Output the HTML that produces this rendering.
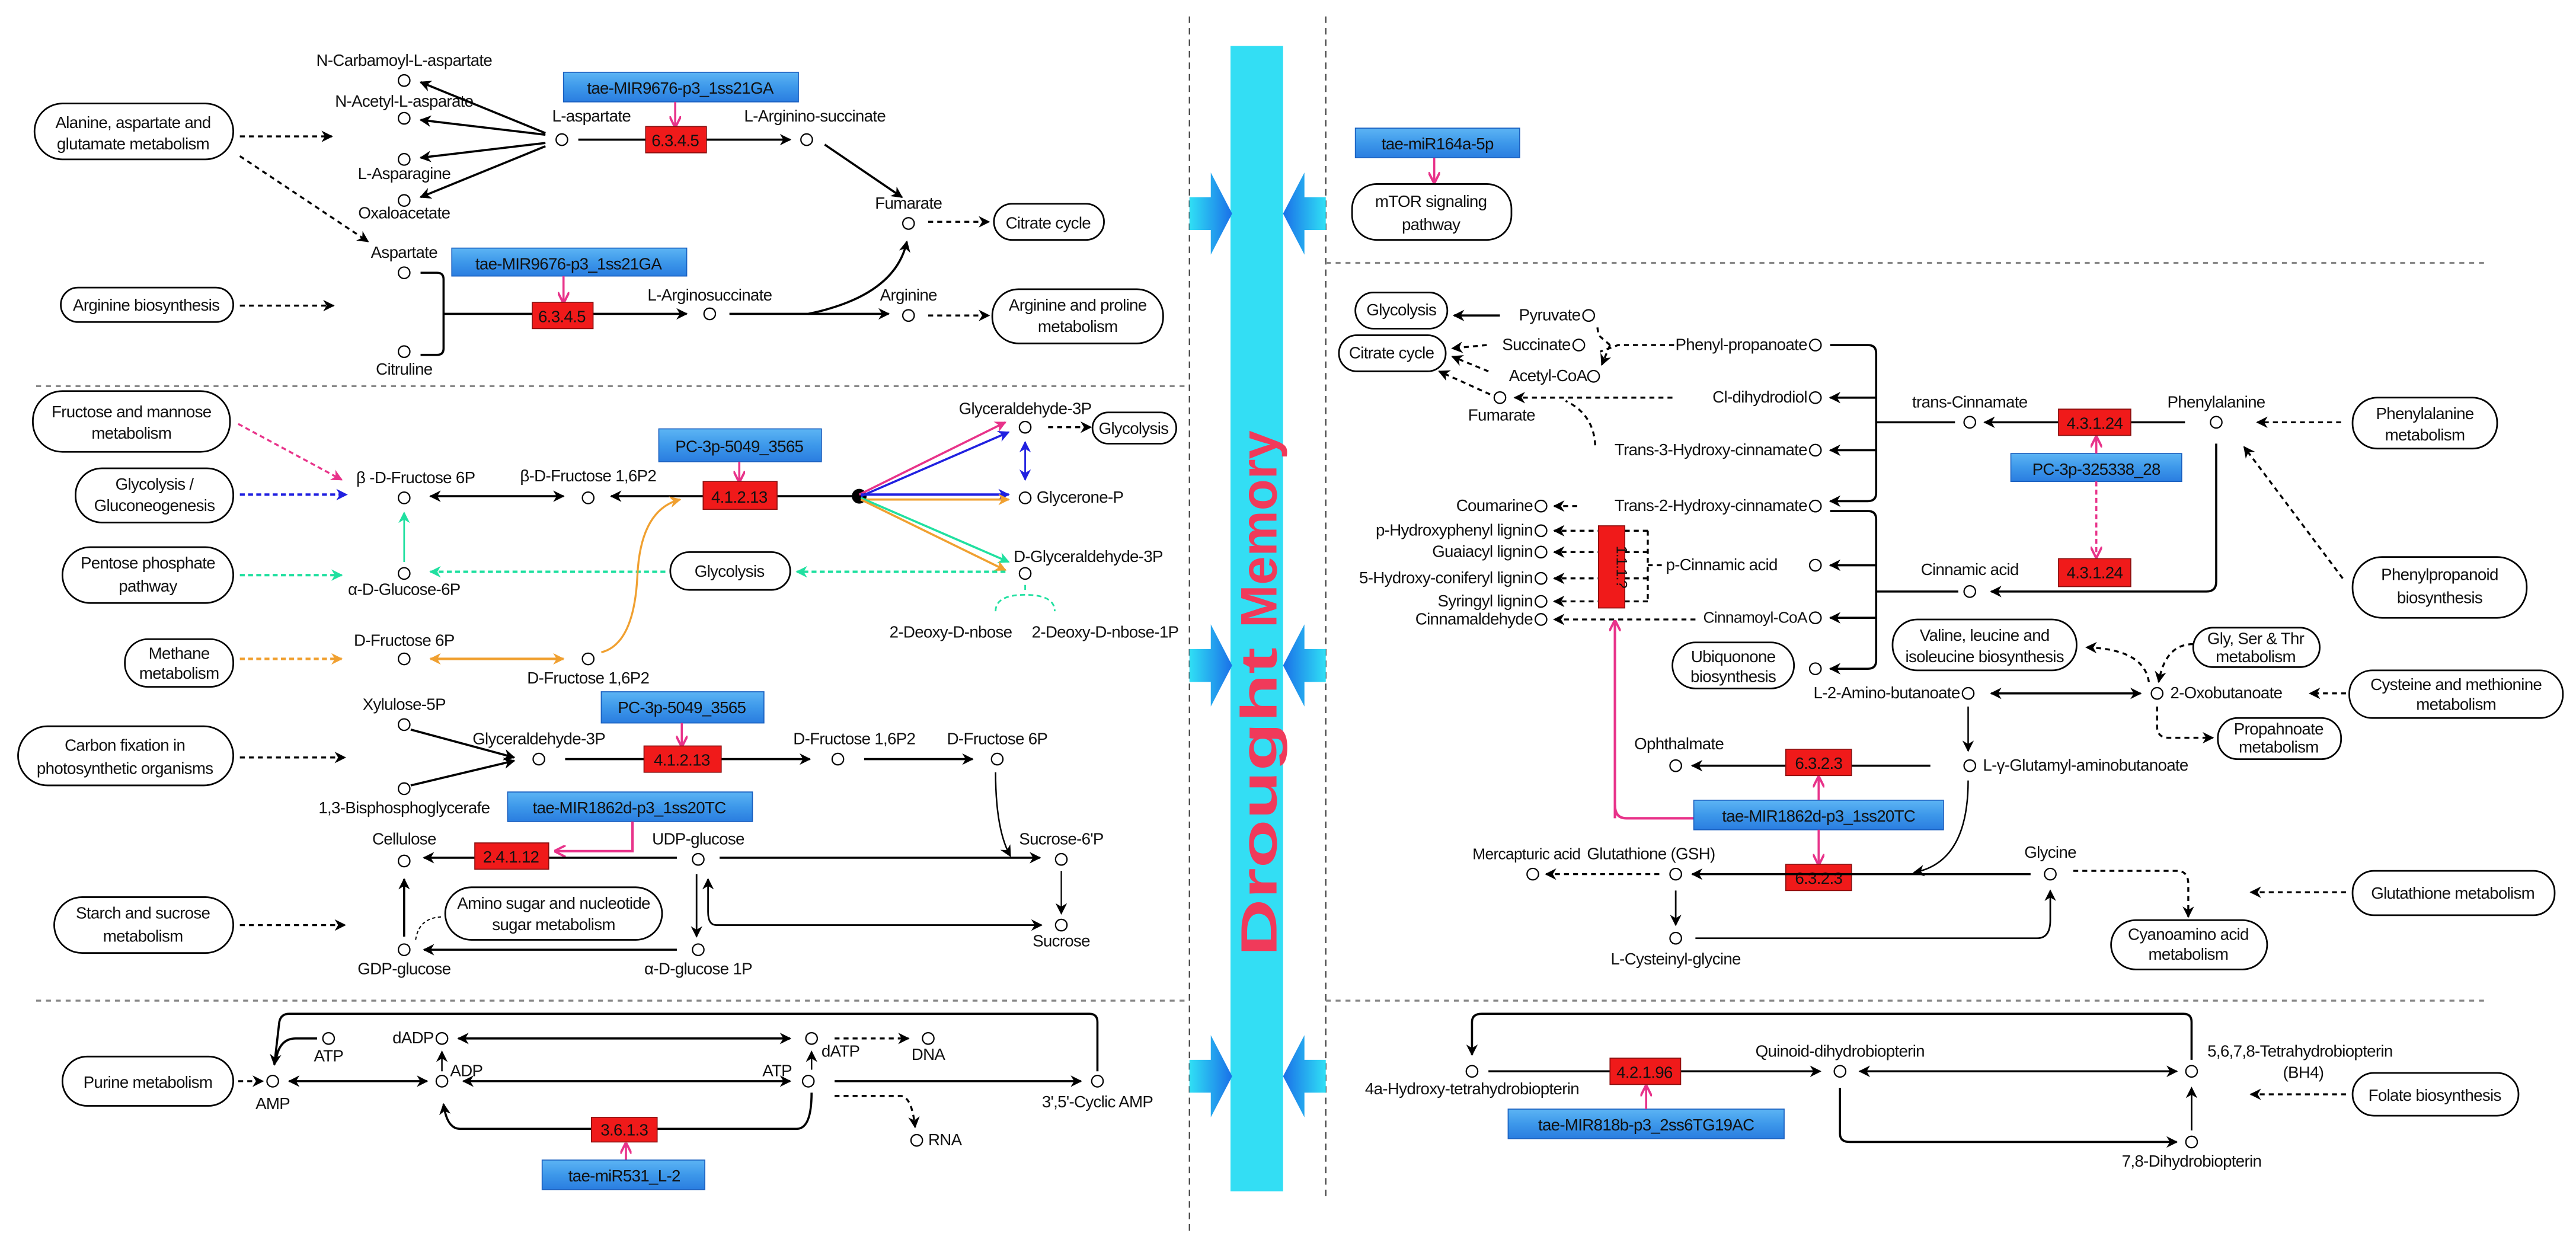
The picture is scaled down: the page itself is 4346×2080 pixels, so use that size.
<!DOCTYPE html>
<html><head><meta charset="utf-8"><style>
html,body{margin:0;padding:0;background:#fff;}
svg{display:block;}
text{font-family:"Liberation Sans Narrow","Liberation Sans",sans-serif;font-size:10px;fill:#111;letter-spacing:-0.25px;}
.m{text-anchor:middle;}
.e{text-anchor:end;}
.l{stroke:#000;stroke-width:1.3;fill:none;}
.d{stroke:#000;stroke-width:1.2;fill:none;stroke-dasharray:3,2.5;}
.c{fill:#fff;stroke:#000;stroke-width:0.8;}
.bx{fill:#fff;stroke:#000;stroke-width:1;}
.rd{fill:#f01a1a;stroke:#8a1010;stroke-width:0.6;}
.bl{fill:url(#bg);stroke:#1a60c0;stroke-width:0.6;}
.sep{stroke:#888;stroke-width:1.2;stroke-dasharray:3,3;}
</style></head><body>
<svg width="4346" height="2080" viewBox="0 0 1568 750.4" preserveAspectRatio="none" xmlns="http://www.w3.org/2000/svg">
<defs>
<linearGradient id="bg" x1="0" y1="0" x2="0" y2="1"><stop offset="0" stop-color="#5cb4f4"/><stop offset="0.5" stop-color="#3d98ea"/><stop offset="1" stop-color="#2a7de0"/></linearGradient>
<linearGradient id="ar" x1="0" y1="0" x2="1" y2="0"><stop offset="0" stop-color="#30e0f5"/><stop offset="1" stop-color="#1a70e8"/></linearGradient>
<linearGradient id="al" x1="1" y1="0" x2="0" y2="0"><stop offset="0" stop-color="#30e0f5"/><stop offset="1" stop-color="#1a70e8"/></linearGradient>
<marker id="a" viewBox="0 0 10 10" refX="9" refY="5" markerWidth="7" markerHeight="7" markerUnits="userSpaceOnUse" orient="auto-start-reverse"><path d="M0,0L10,5L0,10L3,5z" fill="#000"/></marker>
<marker id="p" viewBox="0 0 10 10" refX="9" refY="5" markerWidth="7" markerHeight="7" markerUnits="userSpaceOnUse" orient="auto-start-reverse"><path d="M0,0L10,5L0,10" fill="none" stroke="#e8338a" stroke-width="2"/></marker>
<marker id="b" viewBox="0 0 10 10" refX="9" refY="5" markerWidth="7" markerHeight="7" markerUnits="userSpaceOnUse" orient="auto-start-reverse"><path d="M0,0L10,5L0,10L3,5z" fill="#2020e0"/></marker>
<marker id="o" viewBox="0 0 10 10" refX="9" refY="5" markerWidth="7" markerHeight="7" markerUnits="userSpaceOnUse" orient="auto-start-reverse"><path d="M0,0L10,5L0,10L3,5z" fill="#f0a030"/></marker>
<marker id="t" viewBox="0 0 10 10" refX="9" refY="5" markerWidth="7" markerHeight="7" markerUnits="userSpaceOnUse" orient="auto-start-reverse"><path d="M0,0L10,5L0,10L3,5z" fill="#20e0a0"/></marker>
<marker id="k" viewBox="0 0 10 10" refX="9" refY="5" markerWidth="7" markerHeight="7" markerUnits="userSpaceOnUse" orient="auto-start-reverse"><path d="M0,0L10,5L0,10L3,5z" fill="#e8338a"/></marker>
</defs>

<!-- dividers -->
<line x1="724" y1="10" x2="724" y2="750" stroke="#444" stroke-width="0.8" stroke-dasharray="4,3"/>
<line x1="807" y1="10" x2="807" y2="728" stroke="#444" stroke-width="0.8" stroke-dasharray="4,3"/>
<line class="sep" x1="22" y1="235" x2="724" y2="235"/>
<line class="sep" x1="22" y1="609" x2="724" y2="609"/>
<line class="sep" x1="807" y1="160" x2="1512" y2="160"/>
<line class="sep" x1="807" y1="609" x2="1512" y2="609"/>

<!-- cyan bar -->
<rect x="749" y="28" width="32" height="697" fill="#33def4"/>
<text transform="translate(777,322) rotate(-90)" class="m" textLength="120" lengthAdjust="spacingAndGlyphs" style="font-size:31px;font-weight:bold;fill:#f03a5a;font-family:'Liberation Sans',sans-serif;letter-spacing:0">Memory</text>
<text transform="translate(777,488) rotate(-90)" class="m" textLength="188" lengthAdjust="spacingAndGlyphs" style="font-size:31px;font-weight:bold;fill:#f03a5a;font-family:'Liberation Sans',sans-serif;letter-spacing:0">Drought</text>
<!-- blue arrows -->
<g fill="url(#ar)"><path d="M724,120H737V105L750,130L737,155V140H724z"/><path d="M724,395H737V380L750,405L737,430V415H724z"/><path d="M724,645H737V630L750,655L737,680V665H724z"/></g>
<g fill="url(#al)"><path d="M807,120H794V105L781,130L794,155V140H807z"/><path d="M807,395H794V380L781,405L794,430V415H807z"/><path d="M807,645H794V630L781,655L794,680V665H807z"/></g>

<!-- ===== LEFT SECTION 1 ===== -->
<rect class="bx" x="21" y="63" width="121" height="34" rx="17"/>
<text class="m" x="81" y="78">Alanine, aspartate and</text><text class="m" x="81" y="91">glutamate metabolism</text>
<line class="d" x1="146" y1="83" x2="202" y2="83" marker-end="url(#a)"/>
<text class="m" x="246" y="40">N-Carbamoyl-L-aspartate</text><circle class="c" cx="246" cy="49" r="3.5"/>
<text class="m" x="246" y="65">N-Acetyl-L-asparate</text><circle class="c" cx="246" cy="72" r="3.5"/>
<circle class="c" cx="246" cy="97" r="3.5"/><text class="m" x="246" y="109">L-Asparagine</text>
<circle class="c" cx="246" cy="122" r="3.5"/><text class="m" x="246" y="133">Oxaloacetate</text>
<line class="l" x1="332" y1="81" x2="256" y2="50" marker-end="url(#a)"/>
<line class="l" x1="332" y1="82" x2="256" y2="73" marker-end="url(#a)"/>
<line class="l" x1="332" y1="87" x2="256" y2="96" marker-end="url(#a)"/>
<line class="l" x1="332" y1="89" x2="256" y2="120" marker-end="url(#a)"/>
<circle class="c" cx="342" cy="85" r="3.5"/><text class="m" x="360" y="74">L-aspartate</text>
<rect class="bl" x="343" y="44" width="143" height="18"/><text class="m" x="414" y="57">tae-MIR9676-p3_1ss21GA</text>
<line x1="411" y1="62" x2="411" y2="77" stroke="#e8338a" stroke-width="1.3" marker-end="url(#p)"/>
<line class="l" x1="352" y1="85" x2="481" y2="85" marker-end="url(#a)"/>
<rect class="rd" x="393" y="77" width="37" height="16"/><text class="m" x="411" y="89">6.3.4.5</text>
<text class="m" x="496" y="74">L-Arginino-succinate</text><circle class="c" cx="491" cy="85" r="3.5"/>
<line class="l" x1="502" y1="88" x2="549" y2="120" marker-end="url(#a)"/>
<text class="m" x="553" y="127">Fumarate</text><circle class="c" cx="553" cy="136" r="3.5"/>
<line class="d" x1="565" y1="135" x2="602" y2="135" marker-end="url(#a)"/>
<rect class="bx" x="605" y="124" width="67" height="22" rx="11"/><text class="m" x="638" y="139">Citrate cycle</text>
<line class="d" x1="146" y1="95" x2="224" y2="147" marker-end="url(#a)"/>
<text class="m" x="246" y="157">Aspartate</text><circle class="c" cx="246" cy="166" r="3.5"/>
<rect class="bx" x="37" y="175" width="105" height="21" rx="10.5"/><text class="m" x="89" y="189">Arginine biosynthesis</text>
<line class="d" x1="146" y1="186" x2="203" y2="186" marker-end="url(#a)"/>
<path class="l" d="M256,166H266Q270,166 270,170V212Q270,216 266,216H256"/>
<line class="l" x1="270" y1="191" x2="418" y2="191" marker-end="url(#a)"/>
<rect class="bl" x="275" y="151" width="143" height="17"/><text class="m" x="346" y="164">tae-MIR9676-p3_1ss21GA</text>
<line x1="343" y1="168" x2="343" y2="184" stroke="#e8338a" stroke-width="1.3" marker-end="url(#p)"/>
<rect class="rd" x="324" y="184" width="37" height="16"/><text class="m" x="342" y="196">6.3.4.5</text>
<text class="m" x="432" y="183">L-Arginosuccinate</text><circle class="c" cx="432" cy="191" r="3.5"/>
<line class="l" x1="444" y1="191" x2="541" y2="191" marker-end="url(#a)"/>
<path class="l" d="M492,191Q545,180 552,147" marker-end="url(#a)"/>
<text class="m" x="553" y="183">Arginine</text><circle class="c" cx="553" cy="192" r="3.5"/>
<line class="d" x1="565" y1="192" x2="602" y2="192" marker-end="url(#a)"/>
<rect class="bx" x="604" y="176" width="104" height="33" rx="16"/><text class="m" x="656" y="189">Arginine and proline</text><text class="m" x="656" y="202">metabolism</text>
<circle class="c" cx="246" cy="214" r="3.5"/><text class="m" x="246" y="228">Citruline</text>

<!-- ===== LEFT SECTION 2 ===== -->
<rect class="bx" x="20" y="238" width="120" height="37" rx="18"/><text class="m" x="80" y="254">Fructose and mannose</text><text class="m" x="80" y="267">metabolism</text>
<line x1="145" y1="258" x2="208" y2="292" stroke="#e8338a" stroke-width="1.2" stroke-dasharray="3,2" marker-end="url(#k)"/>
<rect class="bx" x="46" y="285" width="96" height="33" rx="16"/><text class="m" x="94" y="298">Glycolysis /</text><text class="m" x="94" y="311">Gluconeogenesis</text>
<line x1="146" y1="301" x2="211" y2="301" stroke="#2020e0" stroke-width="1.5" stroke-dasharray="3,2" marker-end="url(#b)"/>
<text class="m" x="253" y="294">β -D-Fructose 6P</text><circle class="c" cx="246" cy="303" r="3.5"/>
<line class="l" x1="262" y1="302" x2="343" y2="302" marker-start="url(#a)" marker-end="url(#a)"/>
<text class="m" x="358" y="293">β-D-Fructose 1,6P2</text><circle class="c" cx="358" cy="303" r="3.5"/>
<line class="l" x1="523" y1="302" x2="372" y2="302" marker-end="url(#a)"/>
<rect class="bl" x="401" y="261" width="99" height="20"/><text class="m" x="450" y="275">PC-3p-5049_3565</text>
<line x1="450" y1="281" x2="450" y2="293" stroke="#e8338a" stroke-width="1.3" marker-end="url(#p)"/>
<rect class="rd" x="428" y="293" width="45" height="17"/><text class="m" x="450" y="306">4.1.2.13</text>
<circle cx="523" cy="302" r="4.5" fill="#000"/>
<line x1="523" y1="301" x2="612" y2="257" stroke="#e8338a" stroke-width="1.3" marker-end="url(#k)"/>
<line x1="524" y1="302" x2="614" y2="263" stroke="#2020e0" stroke-width="1.3" marker-end="url(#b)"/>
<line x1="524" y1="301" x2="614" y2="301" stroke="#2020e0" stroke-width="1.5" marker-end="url(#b)"/>
<line x1="524" y1="304" x2="614" y2="304" stroke="#f0a030" stroke-width="1.3" marker-end="url(#o)"/>
<line x1="524" y1="303" x2="614" y2="342" stroke="#20e0a0" stroke-width="1.3" marker-end="url(#t)"/>
<line x1="524" y1="304" x2="612" y2="347" stroke="#f0a030" stroke-width="1.3" marker-end="url(#o)"/>
<text class="m" x="624" y="252">Glyceraldehyde-3P</text><circle class="c" cx="624" cy="260" r="3.5"/>
<line x1="624" y1="269" x2="624" y2="292" stroke="#2020e0" stroke-width="1" marker-start="url(#b)" marker-end="url(#b)"/>
<line class="d" x1="638" y1="260" x2="664" y2="260" marker-end="url(#a)"/>
<rect class="bx" x="665" y="251" width="51" height="19" rx="9.5"/><text class="m" x="690" y="264">Glycolysis</text>
<circle class="c" cx="624" cy="303" r="3.5"/><text x="631" y="306">Glycerone-P</text>
<text x="617" y="342">D-Glyceraldehyde-3P</text><circle class="c" cx="624" cy="349" r="3.5"/>
<rect class="bx" x="38" y="333" width="104" height="34" rx="17"/><text class="m" x="90" y="346">Pentose phosphate</text><text class="m" x="90" y="360">pathway</text>
<line x1="146" y1="350" x2="208" y2="350" stroke="#20e0a0" stroke-width="1.5" stroke-dasharray="3,2" marker-end="url(#t)"/>
<circle class="c" cx="246" cy="349" r="3.5"/><text class="m" x="246" y="362">α-D-Glucose-6P</text>
<line x1="246" y1="342" x2="246" y2="312" stroke="#20e0a0" stroke-width="1" marker-end="url(#t)"/>
<rect class="bx" x="408" y="336" width="73" height="23" rx="11.5"/><text class="m" x="444" y="351">Glycolysis</text>
<line x1="612" y1="348" x2="485" y2="348" stroke="#20e0a0" stroke-width="1.5" stroke-dasharray="3,2" marker-end="url(#t)"/>
<line x1="405" y1="348" x2="262" y2="348" stroke="#20e0a0" stroke-width="1.5" stroke-dasharray="3,2" marker-end="url(#t)"/>
<path d="M624,356V360M606,372Q606,362 624,362Q642,362 642,372" fill="none" stroke="#20e0a0" stroke-width="1" stroke-dasharray="3,2"/>
<text class="e" x="616" y="388">2-Deoxy-D-nbose</text><text x="628" y="388">2-Deoxy-D-nbose-1P</text>
<path d="M366,397Q386,392 388,350Q390,310 414,304" fill="none" stroke="#f0a030" stroke-width="1.2" marker-end="url(#o)"/>
<rect class="bx" x="76" y="389" width="66" height="29" rx="14"/><text class="m" x="109" y="401">Methane</text><text class="m" x="109" y="413">metabolism</text>
<line x1="146" y1="401" x2="208" y2="401" stroke="#f0a030" stroke-width="1.5" stroke-dasharray="3,2" marker-end="url(#o)"/>
<text class="m" x="246" y="393">D-Fructose 6P</text><circle class="c" cx="246" cy="401" r="3.5"/>
<line x1="262" y1="401" x2="343" y2="401" stroke="#f0a030" stroke-width="1.5" marker-start="url(#o)" marker-end="url(#o)"/>
<circle class="c" cx="358" cy="401" r="3.5"/><text class="m" x="358" y="416">D-Fructose 1,6P2</text>

<!-- ===== LEFT SECTION 3 ===== -->
<text class="m" x="246" y="432">Xylulose-5P</text><circle class="c" cx="246" cy="441" r="3.5"/>
<rect class="bx" x="11" y="442" width="131" height="36" rx="18"/><text class="m" x="76" y="457">Carbon fixation in</text><text class="m" x="76" y="471">photosynthetic organisms</text>
<line class="d" x1="146" y1="461" x2="210" y2="461" marker-end="url(#a)"/>
<line class="l" x1="250" y1="444" x2="313" y2="461" marker-end="url(#a)"/>
<line class="l" x1="250" y1="478" x2="313" y2="463" marker-end="url(#a)"/>
<text class="m" x="328" y="453">Glyceraldehyde-3P</text><circle class="c" cx="328" cy="462" r="3.5"/>
<line class="l" x1="344" y1="462" x2="493" y2="462" marker-end="url(#a)"/>
<rect class="bl" x="366" y="421" width="99" height="19"/><text class="m" x="415" y="434">PC-3p-5049_3565</text>
<line x1="415" y1="440" x2="415" y2="454" stroke="#e8338a" stroke-width="1.3" marker-end="url(#p)"/>
<rect class="rd" x="392" y="454" width="47" height="16"/><text class="m" x="415" y="466">4.1.2.13</text>
<text class="m" x="520" y="453">D-Fructose 1,6P2</text><circle class="c" cx="510" cy="462" r="3.5"/>
<line class="l" x1="526" y1="462" x2="592" y2="462" marker-end="url(#a)"/>
<text class="m" x="607" y="453">D-Fructose 6P</text><circle class="c" cx="607" cy="462" r="3.5"/>
<circle class="c" cx="246" cy="480" r="3.5"/><text class="m" x="246" y="495">1,3-Bisphosphoglycerafe</text>
<rect class="bl" x="309" y="482" width="149" height="18"/><text class="m" x="383" y="495">tae-MIR1862d-p3_1ss20TC</text>
<path d="M385,500V518H338" fill="none" stroke="#e8338a" stroke-width="1.5" marker-end="url(#p)"/>
<text class="m" x="246" y="514">Cellulose</text><circle class="c" cx="246" cy="524" r="3.5"/>
<line class="l" x1="412" y1="522" x2="258" y2="522" marker-end="url(#a)"/>
<rect class="rd" x="289" y="513" width="45" height="16"/><text class="m" x="311" y="525">2.4.1.12</text>
<text class="m" x="425" y="514">UDP-glucose</text><circle class="c" cx="425" cy="523" r="3.5"/>
<line class="l" x1="438" y1="522" x2="633" y2="522" marker-end="url(#a)"/>
<path d="M606,470Q606,505 615,521" fill="none" stroke="#000" stroke-width="0.9" marker-end="url(#a)"/>
<text class="m" x="646" y="514">Sucrose-6'P</text><circle class="c" cx="646" cy="523" r="3.5"/>
<line x1="646" y1="530" x2="646" y2="556" stroke="#000" stroke-width="0.8" marker-end="url(#a)"/>
<circle class="c" cx="646" cy="563" r="3.5"/><text class="m" x="646" y="576">Sucrose</text>
<line x1="424" y1="532" x2="424" y2="570" stroke="#000" stroke-width="1" marker-end="url(#a)"/>
<path d="M634,563H436Q431,563 431,555V535" fill="none" stroke="#000" stroke-width="1" marker-start="url(#a)" marker-end="url(#a)"/>
<rect class="bx" x="33" y="546" width="109" height="34" rx="17"/><text class="m" x="87" y="559">Starch and sucrose</text><text class="m" x="87" y="573">metabolism</text>
<line class="d" x1="146" y1="563" x2="210" y2="563" marker-end="url(#a)"/>
<line class="l" x1="246" y1="570" x2="246" y2="535" marker-end="url(#a)"/>
<rect class="bx" x="271" y="540" width="132" height="32" rx="16"/><text class="m" x="337" y="553">Amino sugar and nucleotide</text><text class="m" x="337" y="566">sugar metabolism</text>
<path d="M253,572Q255,558 270,558" fill="none" stroke="#000" stroke-width="0.7" stroke-dasharray="2,1.5"/>
<circle class="c" cx="246" cy="578" r="3.5"/><text class="m" x="246" y="593">GDP-glucose</text>
<circle class="c" cx="425" cy="578" r="3.5"/><text class="m" x="425" y="593">α-D-glucose 1P</text>
<line class="l" x1="412" y1="578" x2="258" y2="578" marker-end="url(#a)"/>

<!-- ===== PURINE ===== -->
<path class="l" d="M668,652V622Q668,617 663,617H176Q171,617 170,622L167,648" marker-end="url(#a)"/>
<path class="l" d="M193,632H180Q170,632 168,645"/>
<circle class="c" cx="200" cy="632" r="3.5"/><text class="m" x="200" y="646">ATP</text>
<text class="e" x="264" y="635">dADP</text><circle class="c" cx="269" cy="632" r="3.5"/>
<line class="l" x1="279" y1="632" x2="481" y2="632" marker-start="url(#a)" marker-end="url(#a)"/>
<circle class="c" cx="494" cy="632" r="3.5"/><text x="500" y="643">dATP</text>
<line class="d" x1="508" y1="632" x2="553" y2="632" marker-end="url(#a)"/>
<circle class="c" cx="565" cy="632" r="3.5"/><text class="m" x="565" y="645">DNA</text>
<line x1="269" y1="652" x2="269" y2="640" stroke="#000" stroke-width="0.9" marker-end="url(#a)"/>
<text x="274" y="655">ADP</text><text class="e" x="482" y="655">ATP</text>
<line x1="494" y1="651" x2="494" y2="640" stroke="#000" stroke-width="0.9" marker-end="url(#a)"/>
<rect class="bx" x="38" y="643" width="104" height="30" rx="15"/><text class="m" x="90" y="662">Purine metabolism</text>
<line class="d" x1="145" y1="658" x2="160" y2="658" marker-end="url(#a)"/>
<circle class="c" cx="166" cy="658" r="3.5"/><text class="m" x="166" y="675">AMP</text>
<line class="l" x1="176" y1="658" x2="260" y2="658" marker-start="url(#a)" marker-end="url(#a)"/>
<circle class="c" cx="269" cy="658" r="3.5"/>
<line class="l" x1="282" y1="658" x2="481" y2="658" marker-start="url(#a)" marker-end="url(#a)"/>
<circle class="c" cx="492" cy="658" r="3.5"/>
<line class="l" x1="508" y1="658" x2="658" y2="658" marker-end="url(#a)"/>
<circle class="c" cx="668" cy="658" r="3.5"/><text class="m" x="668" y="674">3',5'-Cyclic AMP</text>
<path class="d" d="M508,667H548Q555,667 557,686" marker-end="url(#a)"/>
<circle class="c" cx="558" cy="694" r="3.5"/><text x="565" y="697">RNA</text>
<path class="l" d="M494,665Q494,687 485,687H280Q272,687 270,672" marker-end="url(#a)"/>
<rect class="rd" x="360" y="680" width="40" height="15"/><text class="m" x="380" y="691">3.6.1.3</text>
<line x1="381" y1="706" x2="381" y2="696" stroke="#e8338a" stroke-width="1.3" marker-end="url(#p)"/>
<rect class="bl" x="330" y="706" width="99" height="18"/><text class="m" x="380" y="719">tae-miR531_L-2</text>

<!-- ===== RIGHT TOP ===== -->
<rect class="bl" x="825" y="78" width="100" height="18"/><text class="m" x="875" y="91">tae-miR164a-5p</text>
<line x1="873" y1="96" x2="873" y2="111" stroke="#e8338a" stroke-width="1.3" marker-end="url(#p)"/>
<rect class="bx" x="823" y="112" width="97" height="34" rx="15"/><text class="m" x="871" y="126">mTOR signaling</text><text class="m" x="871" y="140">pathway</text>

<!-- ===== RIGHT MIDDLE ===== -->
<rect class="bx" x="825" y="178" width="56" height="22" rx="11"/><text class="m" x="853" y="192">Glycolysis</text>
<rect class="bx" x="815" y="204" width="65" height="22" rx="11"/><text class="m" x="847" y="218">Citrate cycle</text>
<line class="l" x1="913" y1="192" x2="885" y2="192" marker-end="url(#a)"/>
<text class="e" x="962" y="195">Pyruvate</text><circle class="c" cx="967" cy="192" r="3.5"/>
<text class="e" x="956" y="213">Succinate</text><circle class="c" cx="961" cy="210" r="3.5"/>
<line class="d" x1="905" y1="210" x2="884" y2="212" marker-end="url(#a)"/>
<text class="e" x="966" y="232">Acetyl-CoA</text><circle class="c" cx="970" cy="229" r="3.5"/>
<line class="d" x1="906" y1="226" x2="884" y2="217" marker-end="url(#a)"/>
<circle class="c" cx="913" cy="242" r="3.5"/><text class="m" x="914" y="256">Fumarate</text>
<line class="d" x1="907" y1="240" x2="876" y2="226" marker-end="url(#a)"/>
<path class="d" d="M1019,210H985L974,214M980,210L973,204L972,197M980,210L975,222" marker-end="url(#a)"/>
<text class="e" x="1100" y="213">Phenyl-propanoate</text><circle class="c" cx="1105" cy="210" r="3.5"/>
<line class="d" x1="1018" y1="242" x2="922" y2="242" marker-end="url(#a)"/>
<path class="d" d="M971,271Q970,252 953,244"/>
<text class="e" x="1100" y="245">Cl-dihydrodiol</text><circle class="c" cx="1105" cy="242" r="3.5"/>
<text class="e" x="1100" y="277">Trans-3-Hydroxy-cinnamate</text><circle class="c" cx="1105" cy="274" r="3.5"/>
<text class="e" x="1100" y="311">Trans-2-Hydroxy-cinnamate</text><circle class="c" cx="1105" cy="308" r="3.5"/>
<path class="l" d="M1114,210H1137Q1142,210 1142,215V300Q1142,305 1137,305H1114" marker-end="url(#a)"/>
<line class="l" x1="1142" y1="242" x2="1114" y2="242" marker-end="url(#a)"/>
<line class="l" x1="1142" y1="274" x2="1114" y2="274" marker-end="url(#a)"/>
<line class="l" x1="1142" y1="257" x2="1190" y2="257"/>
<text class="e" x="933" y="311">Coumarine</text><circle class="c" cx="938" cy="308" r="3.5"/>
<line class="d" x1="960" y1="308" x2="946" y2="308" marker-end="url(#a)"/>
<text class="e" x="933" y="326">p-Hydroxyphenyl lignin</text><circle class="c" cx="938" cy="323" r="3.5"/>
<text class="e" x="933" y="339">Guaiacyl lignin</text><circle class="c" cx="938" cy="336" r="3.5"/>
<text class="e" x="933" y="355">5-Hydroxy-coniferyl lignin</text><circle class="c" cx="938" cy="352" r="3.5"/>
<text class="e" x="933" y="369">Syringyl lignin</text><circle class="c" cx="938" cy="366" r="3.5"/>
<text class="e" x="933" y="380">Cinnamaldehyde</text><circle class="c" cx="938" cy="377" r="3.5"/>
<g class="d"><line x1="1003" y1="323" x2="946" y2="323" marker-end="url(#a)"/><line x1="1003" y1="336" x2="946" y2="336" marker-end="url(#a)"/><line x1="1003" y1="352" x2="946" y2="352" marker-end="url(#a)"/><line x1="1003" y1="366" x2="946" y2="366" marker-end="url(#a)"/><line x1="1032" y1="377" x2="946" y2="377" marker-end="url(#a)"/><path d="M1003,323V366M1003,344H1012"/></g>
<rect class="rd" x="973" y="320" width="16" height="50"/><text transform="translate(984,345) rotate(90)" class="m" style="font-size:9px">1.1.1.?</text>
<text x="1014" y="347">p-Cinnamic acid</text><circle class="c" cx="1105" cy="344" r="3.5"/>
<text class="e" x="1100" y="379" style="font-size:9.5px">Cinnamoyl-CoA</text><circle class="c" cx="1105" cy="376" r="3.5"/>
<path class="l" d="M1114,311H1137Q1142,311 1142,316V402Q1142,407 1137,407H1114" marker-end="url(#a)"/>
<line class="l" x1="1142" y1="344" x2="1114" y2="344" marker-end="url(#a)"/>
<line class="l" x1="1142" y1="376" x2="1114" y2="376" marker-end="url(#a)"/>
<line class="l" x1="1142" y1="360" x2="1192" y2="360"/>
<rect class="bx" x="1018" y="391" width="74" height="28" rx="14"/><text class="m" x="1055" y="403">Ubiquonone</text><text class="m" x="1055" y="415">biosynthesis</text>
<circle class="c" cx="1105" cy="407" r="3.5"/>
<text class="m" x="1199" y="248">trans-Cinnamate</text><circle class="c" cx="1199" cy="257" r="3.5"/>
<line class="l" x1="1330" y1="257" x2="1208" y2="257" marker-end="url(#a)"/>
<rect class="rd" x="1253" y="249" width="44" height="16"/><text class="m" x="1275" y="261">4.3.1.24</text>
<text class="m" x="1349" y="248">Phenylalanine</text><circle class="c" cx="1349" cy="257" r="3.5"/>
<line class="d" x1="1425" y1="257" x2="1374" y2="257" marker-end="url(#a)"/>
<rect class="bx" x="1432" y="242" width="88" height="31" rx="15"/><text class="m" x="1476" y="255">Phenylalanine</text><text class="m" x="1476" y="268">metabolism</text>
<rect class="bl" x="1224" y="276" width="104" height="17"/><text class="m" x="1276" y="289">PC-3p-325338_28</text>
<line x1="1276" y1="276" x2="1276" y2="266" stroke="#e8338a" stroke-width="1.3" marker-end="url(#p)"/>
<line x1="1276" y1="293" x2="1276" y2="339" stroke="#e8338a" stroke-width="1.3" stroke-dasharray="3,2" marker-end="url(#p)"/>
<rect class="rd" x="1253" y="340" width="44" height="17"/><text class="m" x="1275" y="352">4.3.1.24</text>
<text class="m" x="1199" y="350">Cinnamic acid</text><circle class="c" cx="1199" cy="360" r="3.5"/>
<path class="l" d="M1349,270V354Q1349,360 1343,360H1212" marker-end="url(#a)"/>
<rect class="bx" x="1432" y="339" width="106" height="37" rx="18"/><text class="m" x="1485" y="353">Phenylpropanoid</text><text class="m" x="1485" y="367">biosynthesis</text>
<line class="d" x1="1426" y1="352" x2="1366" y2="272" marker-end="url(#a)"/>
<path d="M983,498Q983,498 983,378" fill="none" stroke="#e8338a" stroke-width="1.5" marker-end="url(#p)"/>
<path d="M1031,498H990Q983,498 983,490" fill="none" stroke="#e8338a" stroke-width="1.5"/>
<rect class="bx" x="1152" y="377" width="112" height="31" rx="15"/><text class="m" x="1208" y="390">Valine, leucine and</text><text class="m" x="1208" y="403">isoleucine biosynthesis</text>
<rect class="bx" x="1335" y="382" width="77" height="24" rx="12"/><text class="m" x="1373" y="392">Gly, Ser &amp; Thr</text><text class="m" x="1373" y="403">metabolism</text>
<path class="d" d="M1335,392Q1318,392 1314,415" marker-end="url(#a)"/>
<path class="d" d="M1308,415Q1305,395 1270,394" marker-end="url(#a)"/>
<rect class="bx" x="1430" y="408" width="130" height="29" rx="14"/><text class="m" x="1495" y="420">Cysteine and methionine</text><text class="m" x="1495" y="432">metabolism</text>
<line class="d" x1="1428" y1="422" x2="1406" y2="422" marker-end="url(#a)"/>
<text class="e" x="1193" y="425">L-2-Amino-butanoate</text><circle class="c" cx="1198" cy="422" r="3.5"/>
<line class="l" x1="1212" y1="422" x2="1303" y2="422" marker-start="url(#a)" marker-end="url(#a)"/>
<circle class="c" cx="1313" cy="422" r="3.5"/><text x="1321" y="425">2-Oxobutanoate</text>
<path class="d" d="M1313,430V442Q1313,449 1320,449H1347" marker-end="url(#a)"/>
<rect class="bx" x="1350" y="437" width="75" height="25" rx="12"/><text class="m" x="1387" y="447">Propahnoate</text><text class="m" x="1387" y="458">metabolism</text>
<line x1="1198" y1="430" x2="1198" y2="457" stroke="#000" stroke-width="0.9" marker-end="url(#a)"/>
<text class="m" x="1022" y="456">Ophthalmate</text><circle class="c" cx="1020" cy="466" r="3.5"/>
<line class="l" x1="1175" y1="466" x2="1030" y2="466" marker-end="url(#a)"/>
<rect class="rd" x="1087" y="456" width="40" height="16"/><text class="m" x="1107" y="468">6.3.2.3</text>
<circle class="c" cx="1199" cy="466" r="3.5"/><text x="1207" y="469">L-γ-Glutamyl-aminobutanoate</text>
<rect class="bl" x="1031" y="487" width="152" height="18"/><text class="m" x="1107" y="500">tae-MIR1862d-p3_1ss20TC</text>
<line x1="1107" y1="487" x2="1107" y2="473" stroke="#e8338a" stroke-width="1.3" marker-end="url(#p)"/>
<line x1="1107" y1="505" x2="1107" y2="526" stroke="#e8338a" stroke-width="1.3" marker-end="url(#p)"/>
<rect class="rd" x="1087" y="526" width="40" height="16"/><text class="m" x="1107" y="538">6.3.2.3</text>
<text class="e" x="962" y="523" style="font-size:9.5px">Mercapturic acid</text><circle class="c" cx="933" cy="532" r="3.5"/>
<text x="966" y="523">Glutathione (GSH)</text><circle class="c" cx="1020" cy="532" r="3.5"/>
<line class="d" x1="1010" y1="532" x2="941" y2="532" marker-end="url(#a)"/>
<line class="l" x1="1236" y1="532" x2="1030" y2="532" marker-end="url(#a)"/>
<path d="M1198,475Q1198,525 1165,531" fill="none" stroke="#000" stroke-width="0.9" marker-end="url(#a)"/>
<text class="m" x="1248" y="522">Glycine</text><circle class="c" cx="1248" cy="532" r="3.5"/>
<path class="d" d="M1262,530H1325Q1332,530 1332,538V558" marker-end="url(#a)"/>
<line x1="1020" y1="542" x2="1020" y2="563" stroke="#000" stroke-width="1" marker-end="url(#a)"/>
<circle class="c" cx="1020" cy="571" r="3.5"/><text class="m" x="1020" y="587">L-Cysteinyl-glycine</text>
<path d="M1032,571H1240Q1248,571 1248,560V542" fill="none" stroke="#000" stroke-width="1" marker-end="url(#a)"/>
<rect class="bx" x="1285" y="560" width="95" height="30" rx="15"/><text class="m" x="1332" y="572">Cyanoamino acid</text><text class="m" x="1332" y="584">metabolism</text>
<rect class="bx" x="1432" y="530" width="123" height="27" rx="13"/><text class="m" x="1493" y="547">Glutathione metabolism</text>
<line class="d" x1="1428" y1="543" x2="1370" y2="543" marker-end="url(#a)"/>

<!-- ===== RIGHT BOTTOM ===== -->
<path class="l" d="M1334,645V622Q1334,617 1329,617H902Q896,617 896,622V642" marker-end="url(#a)"/>
<circle class="c" cx="896" cy="652" r="3.5"/><text class="m" x="896" y="666">4a-Hydroxy-tetrahydrobiopterin</text>
<line class="l" x1="906" y1="652" x2="1108" y2="652" marker-end="url(#a)"/>
<rect class="rd" x="980" y="644" width="43" height="16"/><text class="m" x="1001" y="656">4.2.1.96</text>
<rect class="bl" x="918" y="675" width="168" height="18"/><text class="m" x="1002" y="688">tae-MIR818b-p3_2ss6TG19AC</text>
<line x1="1002" y1="675" x2="1002" y2="661" stroke="#e8338a" stroke-width="1.3" marker-end="url(#p)"/>
<text class="m" x="1120" y="643">Quinoid-dihydrobiopterin</text><circle class="c" cx="1120" cy="652" r="3.5"/>
<line class="l" x1="1132" y1="652" x2="1325" y2="652" marker-start="url(#a)" marker-end="url(#a)"/>
<circle class="c" cx="1334" cy="652" r="3.5"/><text class="m" x="1400" y="643">5,6,7,8-Tetrahydrobiopterin</text><text class="m" x="1402" y="656">(BH4)</text>
<rect class="bx" x="1432" y="653" width="101" height="26" rx="13"/><text class="m" x="1482" y="670">Folate biosynthesis</text>
<line class="d" x1="1428" y1="666" x2="1370" y2="666" marker-end="url(#a)"/>
<path class="l" d="M1120,662V690Q1120,695 1126,695H1325" marker-end="url(#a)"/>
<circle class="c" cx="1334" cy="695" r="3.5"/><text class="m" x="1334" y="710">7,8-Dihydrobiopterin</text>
<line x1="1334" y1="688" x2="1334" y2="662" stroke="#000" stroke-width="1" marker-end="url(#a)"/>
</svg>
</body></html>
